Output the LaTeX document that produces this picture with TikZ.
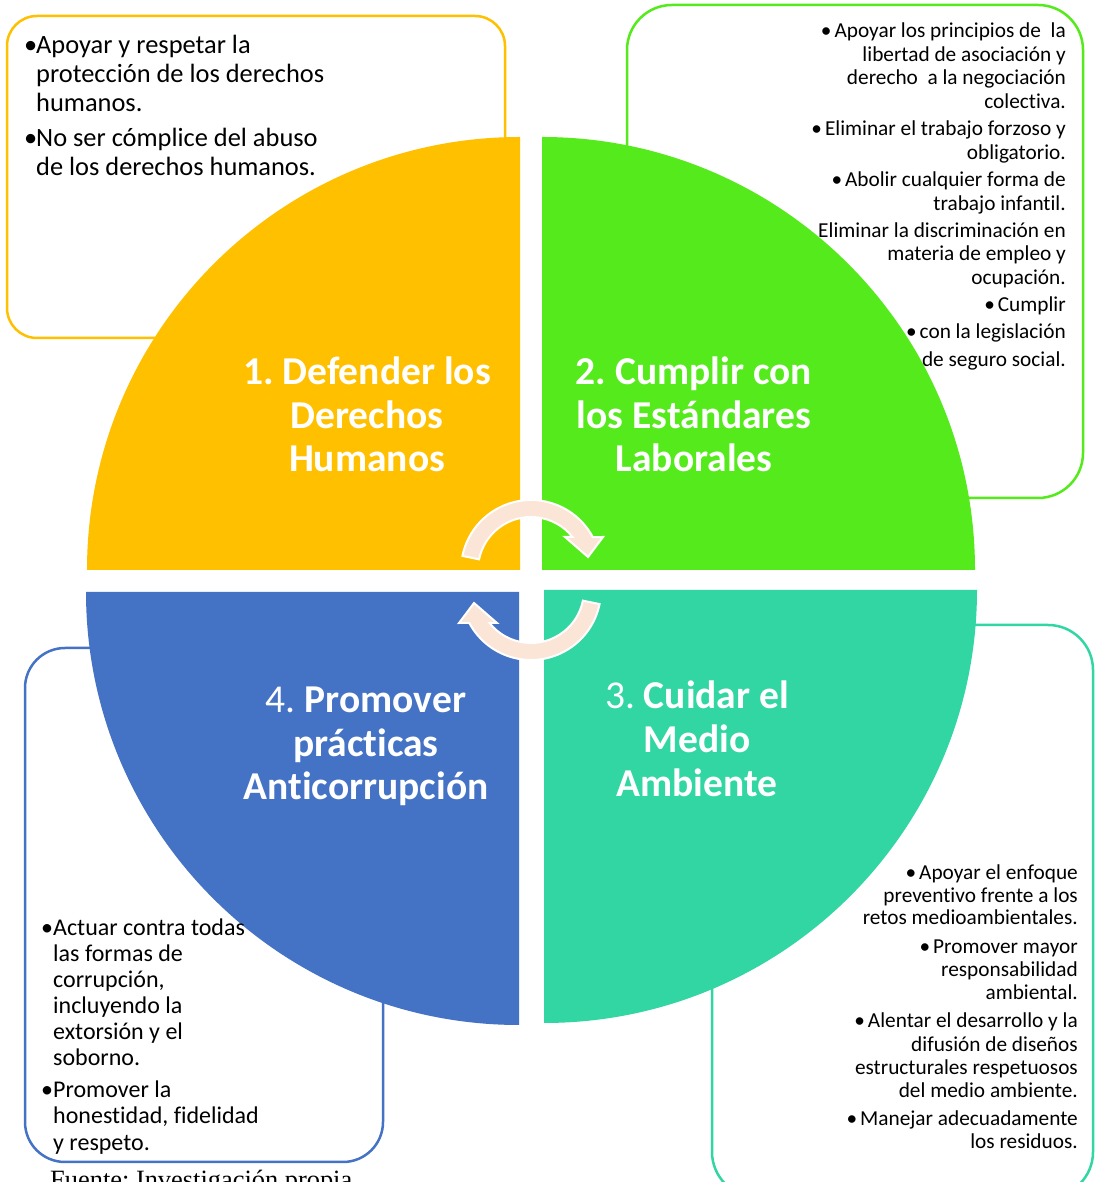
\documentclass[tikz,border=0pt]{standalone}
\usepackage{fontspec}
\setmainfont{Carlito}[Ligatures=NoCommon]
\newfontfamily\fuentefont{Liberation Serif}
\definecolor{qyellow}{HTML}{FFC000}
\definecolor{qgreen}{HTML}{55EA1B}
\definecolor{qteal}{HTML}{32D6A3}
\definecolor{qblue}{HTML}{4472C4}
\definecolor{peach}{HTML}{FBE5D6}
\frenchspacing
\begin{document}
\begin{tikzpicture}[x=1pt,y=1pt,
  infobox/.style={line width=2.5pt, rounded corners=#1},
  cyc/.style={fill=peach, draw=white, line width=2pt, line join=miter},
  ltxt/.style={inner sep=0pt, anchor=base west, font=\fontsize{26.4}{29}\selectfont},
  bltxt/.style={inner sep=0pt, anchor=base west, font=\fontsize{24}{26}\selectfont},
  rtxt/.style={inner sep=0pt, anchor=base east, font=\fontsize{21.3}{23.5}\selectfont},
  ttl/.style={inner sep=0pt, anchor=base, text=white, font=\fontsize{39.5}{43.5}\selectfont}]
\useasboundingbox (0,0) rectangle (1096,1182);
\fill[white] (0,0) rectangle (1096,1182);

% --- text boxes (behind the quadrants)
\draw[infobox=30, draw=qyellow] (7,844) rectangle (505,1166);
\draw[infobox=45, draw=qgreen] (627,684) rectangle (1083,1177);
\draw[infobox=45, draw=qteal] (712,-15) rectangle (1093,557);
\draw[infobox=40, draw=qblue] (25,20) rectangle (383,534);

% --- quadrants
\fill[qyellow] (520,612) -- (87,612) arc[start angle=180, end angle=90, radius=433] -- cycle;
\fill[qgreen] (542,612) -- (542,1045) arc[start angle=90, end angle=0, radius=433] -- cycle;
\fill[qteal] (544,592) -- (977,592) arc[start angle=0, end angle=-90, radius=433] -- cycle;
\fill[qblue] (519,590) -- (519,157) arc[start angle=-90, end angle=-180, radius=433] -- cycle;

% --- circular arrows
\begin{scope}[shift={(531,612)}]
\path[cyc] (168.4:53) -- (168.4:70) arc[start angle=168.4, end angle=28, radius=70]
  -- (72,33) -- (57,13) -- (34,33) -- (38.5:53)
  arc[start angle=38.5, end angle=168.4, radius=53] -- cycle;
\end{scope}
\begin{scope}[shift={(531,592)}, rotate=180]
\path[cyc] (168.4:53) -- (168.4:70) arc[start angle=168.4, end angle=28, radius=70]
  -- (72,33) -- (57,13) -- (34,33) -- (38.5:53)
  arc[start angle=38.5, end angle=168.4, radius=53] -- cycle;
\end{scope}

% --- titles
\node[ttl] (t1a) at (367,797) {\bfseries 1. Defender los};
\node[ttl] (t1b) at (367,753.5) {\bfseries Derechos};
\node[ttl] (t1c) at (367,710) {\bfseries Humanos};
\node[ttl] (t2a) at (694,797) {\bfseries 2. Cumplir con};
\node[ttl] (t2b) at (694,753.5) {\bfseries los Estándares};
\node[ttl] (t2c) at (694,710) {\bfseries Laborales};
\node[ttl] (t3a) at (697,473) {3. \bfseries Cuidar el};
\node[ttl] (t3b) at (697,429) {\bfseries Medio};
\node[ttl] (t3c) at (697,385) {\bfseries Ambiente};
\node[ttl] (t4a) at (366,469) {4. \bfseries Promover};
\node[ttl] (t4b) at (366,425) {\bfseries prácticas};
\node[ttl] (t4c) at (366,382) {\bfseries Anticorrupción};

% --- yellow box text
\node[ltxt] (yb1) at (24,1128) {•};
\node[ltxt] (y1) at (36,1128) {Apoyar y respetar la};
\node[ltxt] (y2) at (36,1099) {protección de los derechos};
\node[ltxt] (y3) at (36,1070) {humanos.};
\node[ltxt] (yb2) at (24,1035) {•};
\node[ltxt] (y4) at (36,1035) {No ser cómplice del abuso};
\node[ltxt] (y5) at (36,1006) {de los derechos humanos.};

% --- green box text
\node[rtxt] (g1) at (1066,1144) {•\hspace{3pt}Apoyar los principios de\ \ la};
\node[rtxt] (g2) at (1066,1120) {libertad de asociación y};
\node[rtxt] (g3) at (1066,1097) {derecho\ \ a la negociación};
\node[rtxt] (g4) at (1066,1073) {colectiva.};
\node[rtxt] (g5) at (1066,1046) {•\hspace{3pt}Eliminar el trabajo forzoso y};
\node[rtxt] (g6) at (1066,1022) {obligatorio.};
\node[rtxt] (g7) at (1066,995) {•\hspace{3pt}Abolir cualquier forma de};
\node[rtxt] (g8) at (1066,971) {trabajo infantil.};
\node[rtxt] (g9) at (1066,944) {Eliminar la discriminación en};
\node[rtxt] (g10) at (1066,921) {materia de empleo y};
\node[rtxt] (g11) at (1066,897) {ocupación.};
\node[rtxt] (g12) at (1066,870) {•\hspace{3pt}Cumplir};
\node[rtxt] (g13) at (1066,843) {•\hspace{3pt}con la legislación};
\node[rtxt] (g14) at (1066,815) {de seguro social.};

% --- teal box text
\node[rtxt] (c1) at (1078,302) {•\hspace{3pt}Apoyar el enfoque};
\node[rtxt] (c2) at (1078,279) {preventivo frente a los};
\node[rtxt] (c3) at (1078,257) {retos medioambientales.};
\node[rtxt] (c4) at (1078,228) {•\hspace{3pt}Promover mayor};
\node[rtxt] (c5) at (1078,205) {responsabilidad};
\node[rtxt] (c6) at (1078,182) {ambiental.};
\node[rtxt] (c7) at (1078,154) {•\hspace{3pt}Alentar el desarrollo y la};
\node[rtxt] (c8) at (1078,130) {difusión de diseños};
\node[rtxt] (c9) at (1078,107) {estructurales respetuosos};
\node[rtxt] (c10) at (1078,84) {del medio ambiente.};
\node[rtxt] (c11) at (1078,56) {•\hspace{3pt}Manejar adecuadamente};
\node[rtxt] (c12) at (1078,33) {los residuos.};

% --- blue box text
\node[bltxt] (bb1) at (41,246) {•};
\node[bltxt] (b1) at (53,246) {Actuar contra todas};
\node[bltxt] (b2) at (53,220) {las formas de};
\node[bltxt] (b3) at (53,194) {corrupción,};
\node[bltxt] (b4) at (53,168) {incluyendo la};
\node[bltxt] (b5) at (53,142) {extorsión y el};
\node[bltxt] (b6) at (53,116) {soborno.};
\node[bltxt] (bb2) at (41,84) {•};
\node[bltxt] (b7) at (53,84) {Promover la};
\node[bltxt] (b8) at (53,58) {honestidad, fidelidad};
\node[bltxt] (b9) at (53,31) {y respeto.};

% --- source
\node[inner sep=0pt, anchor=base west, font=\fuentefont\fontsize{26.4}{30}\selectfont] (src) at (50,-6) {Fuente: Investigación propia};
\end{tikzpicture}
\end{document}
